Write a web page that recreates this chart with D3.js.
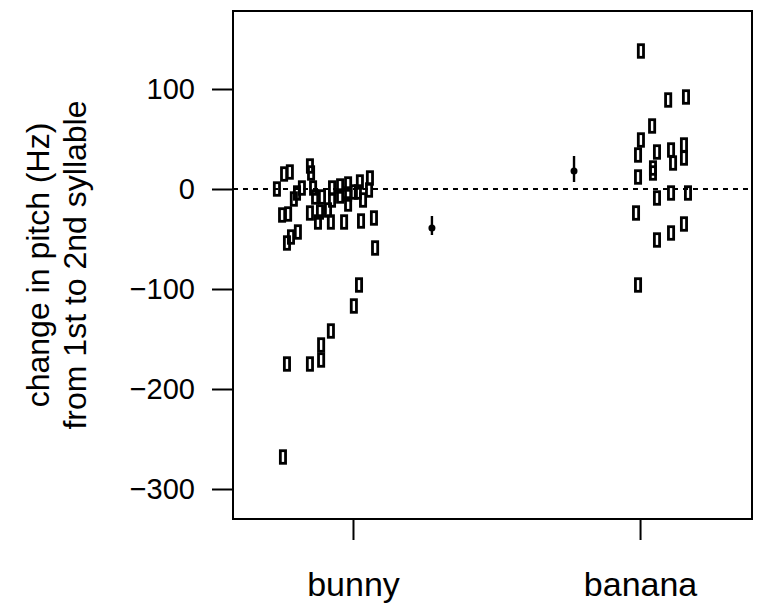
<!DOCTYPE html>
<html>
<head>
<meta charset="utf-8">
<script src="https://cdn.jsdelivr.net/npm/d3@7"></script>
<style>
  body { margin: 0; background: #fff; }
  text { font-family: "Liberation Sans", Arial, sans-serif; fill: #000; }
</style>
</head>
<body>
<div id="chart"></div>
<script>
// categories and their positions on the x axis
const categories = ["bunny", "banana"];
const catPos = [1, 2];
const yTicks = [100, 0, -100, -200, -300];

// individual speakers: x (jittered position), y = change in pitch (Hz)
const bunnyX = [0.735, 0.760, 0.780, 0.753, 0.774, 0.770, 0.784, 0.808, 0.794, 0.805,
  0.822, 0.770, 0.756, 0.850, 0.854, 0.850, 0.861, 0.868, 0.878, 0.885,
  0.892, 0.850, 0.889, 0.889, 0.923, 0.927, 0.927, 0.923, 0.913, 0.955,
  0.955, 0.969, 0.983, 0.983, 0.983, 1.003, 1.003, 1.021, 1.024, 1.017,
  1.028, 1.035, 1.059, 1.056, 1.073, 1.077];
const bunnyY = [0, 15, 17, -26, -25, -54, -48, -43, -10, -4,
  1, -175, -268, 23, 16, -24, 1, -8, -33, -23,
  -8, -175, -156, -171, -142, 1, -11, -33, -21, 3,
  -7, -33, 5, -5, -15, -3, -117, -96, 7, -3,
  -32, -11, 11, -1, -29, -59];

const bananaX = [2.003, 2.098, 2.160, 2.042, 2.003, 1.993, 2.059, 2.108, 2.153, 2.153,
  2.115, 2.045, 1.993, 2.045, 2.059, 2.108, 2.167, 1.986, 2.059, 2.108,
  2.153, 1.993];
const bananaY = [138, 89, 92, 63, 49, 34, 37, 39, 44, 31,
  26, 21, 12, 16, -9, -4, -4, -24, -51, -44,
  -35, -96];

// group means with error bars
const meanX = [1.275, 1.770];
const meanY = [-39, 18];
const meanLo = [-46, 7];
const meanHi = [-27, 33];

const width = 764, height = 613;
const margin = { top: 11, right: 12, bottom: 94, left: 233 };

const svg = d3.select("#chart").append("svg")
  .attr("width", width)
  .attr("height", height);

const x = d3.scaleLinear()
  .domain([0.582, 2.39])
  .range([margin.left, width - margin.right]);

const y = d3.scaleLinear()
  .domain([-330, 178])
  .range([height - margin.bottom, margin.top]);

// reference line at zero
svg.append("line")
  .attr("x1", x.range()[0]).attr("x2", x.range()[1])
  .attr("y1", y(0)).attr("y2", y(0))
  .attr("stroke", "#000")
  .attr("stroke-width", 2)
  .attr("stroke-dasharray", "5,5");

// y axis
const yAxis = svg.append("g")
  .attr("transform", "translate(" + margin.left + ",0)")
  .call(d3.axisLeft(y).tickValues(yTicks).tickSize(21).tickPadding(17)
    .tickFormat(d => d < 0 ? "\u2212" + Math.abs(d) : d));
yAxis.select(".domain").remove();
yAxis.selectAll("line").attr("stroke-width", 2);
yAxis.selectAll("text").attr("font-size", 29).style("font-family", "Liberation Sans, Arial, sans-serif");

// x axis
const xAxis = svg.append("g")
  .attr("transform", "translate(0," + (height - margin.bottom) + ")")
  .call(d3.axisBottom(x).tickValues(catPos).tickSize(21)
    .tickFormat((d, i) => categories[i]));
xAxis.select(".domain").remove();
xAxis.selectAll("line").attr("stroke-width", 2);
xAxis.selectAll("text").attr("font-size", 34).attr("y", 77).attr("dy", 0)
  .style("font-family", "Liberation Sans, Arial, sans-serif");

// frame
svg.append("rect")
  .attr("x", x.range()[0]).attr("y", y.range()[1])
  .attr("width", x.range()[1] - x.range()[0])
  .attr("height", y.range()[0] - y.range()[1])
  .attr("fill", "none")
  .attr("stroke", "#000")
  .attr("stroke-width", 2);

// points as small open rectangles
const pts = [];
bunnyX.forEach((d, i) => pts.push([d, bunnyY[i]]));
bananaX.forEach((d, i) => pts.push([d, bananaY[i]]));

svg.append("g").selectAll("rect")
  .data(pts).enter()
  .append("rect")
  .attr("x", d => x(d[0]) - 2.6)
  .attr("y", d => y(d[1]) - 6.3)
  .attr("width", 5.2)
  .attr("height", 12.6)
  .attr("fill", "none")
  .attr("stroke", "#000")
  .attr("stroke-width", 2.8);

// means with error bars
const means = meanX.map((d, i) => ({ x: d, y: meanY[i], lo: meanLo[i], hi: meanHi[i] }));
const mg = svg.append("g");
mg.selectAll("line")
  .data(means).enter()
  .append("line")
  .attr("x1", d => x(d.x)).attr("x2", d => x(d.x))
  .attr("y1", d => y(d.lo)).attr("y2", d => y(d.hi))
  .attr("stroke", "#000")
  .attr("stroke-width", 2.4);
mg.selectAll("circle")
  .data(means).enter()
  .append("circle")
  .attr("cx", d => x(d.x)).attr("cy", d => y(d.y))
  .attr("r", 3.5)
  .attr("fill", "#000");

// y axis title, two lines
const ylab = svg.append("text")
  .attr("transform", "translate(0," + ((y.range()[0] + y.range()[1]) / 2) + ") rotate(-90)")
  .attr("text-anchor", "middle")
  .attr("font-size", 32);
ylab.append("tspan").attr("x", 0).attr("y", 49).text("change in pitch (Hz)");
ylab.append("tspan").attr("x", 0).attr("y", 86).text("from 1st to 2nd syllable");
</script>
</body>
</html>
